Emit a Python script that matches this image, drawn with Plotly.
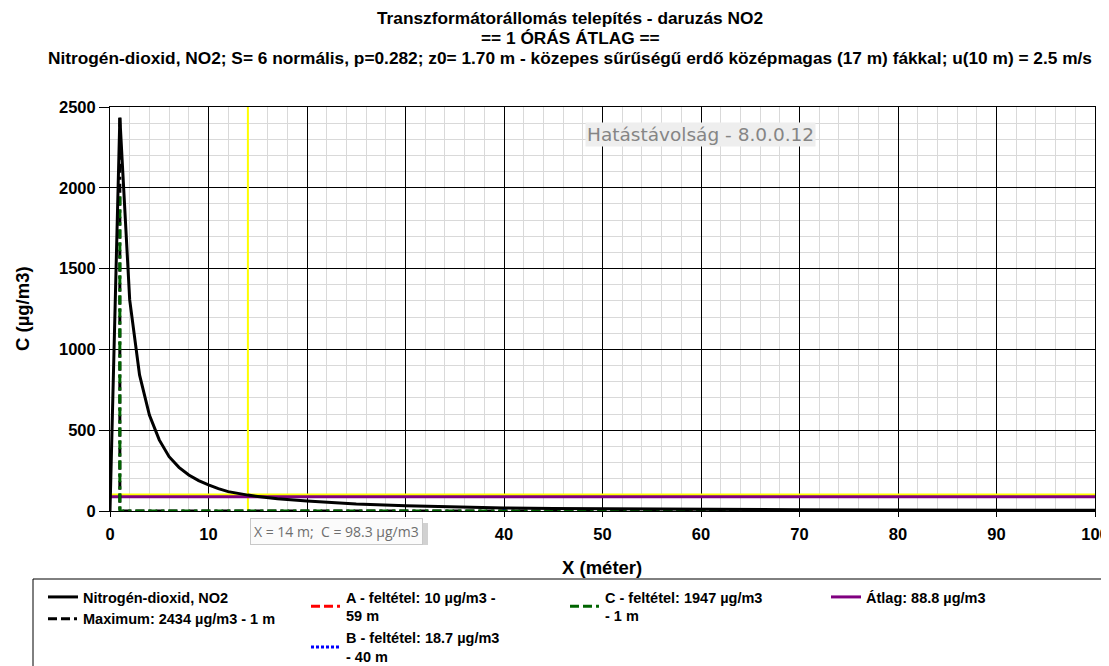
import plotly.graph_objects as go

# ---- data ----
x_dist = [0, 0.25, 0.5, 1, 2, 3, 4, 5, 6, 7, 8, 9, 10, 11, 12, 13, 14, 15, 17, 20,
          25, 30, 35, 40, 45, 50, 55, 59, 65, 70, 80, 90, 100]
conc = [0, 600, 1300, 2434, 1306, 842, 594, 440, 336, 270, 223, 188, 161, 138, 120, 108,
        98.3, 90, 76, 62, 44, 33, 25, 18.7, 15.5, 13, 11, 10, 8.6, 7.6, 6.1, 5.0, 4.2]

max_x, max_c = 1, 2434
a_x, a_c = 59, 10
b_x, b_c = 40, 18.7
c_x, c_c = 1, 1947
avg_c = 88.8
cross_x, cross_c = 14, 98.3

# x tick labels (20 and 30 are hidden behind the crosshair tooltip in the reference)
x_tickvals = [0, 10, 20, 30, 40, 50, 60, 70, 80, 90, 100]
x_ticktext = ["0", "10", "", "", "40", "50", "60", "70", "80", "90", "100"]

title_lines = ["Transzformátorállomás telepítés - daruzás NO2",
               "== 1 ÓRÁS ÁTLAG ==",
               "Nitrogén-dioxid, NO2; S= 6 normális, p=0.282; z0= 1.70 m - közepes sűrűségű erdő középmagas (17 m) fákkal; u(10 m) = 2.5 m/s"]

FONT = "Liberation Sans, Arial, sans-serif"

# the page body adds an 8px offset; screen targets are converted accordingly
OFF = 8
W, H = 1109 - OFF, 666 - OFF
PL, PR, PT, PB = 110, 1095, 107, 511          # plot area in screen pixels
L, T = PL - OFF, PT - OFF
R = W - (PR - OFF)
B = H - (PB - OFF)
pw, ph = PR - PL, PB - PT


def sx(xp):  # screen x -> paper
    return (xp - PL) / pw


def sy(yp):  # screen y -> paper
    return (PB - yp) / ph


def cx(xp):  # screen x -> container
    return (xp - OFF) / W


def cy(yp):  # screen y -> container
    return 1 - (yp - OFF) / H


fig = go.Figure()

# crosshair (yellow)
fig.add_trace(go.Scatter(x=[cross_x, cross_x], y=[0, 2500], mode="lines",
                         line=dict(color="#ffff00", width=2), showlegend=False, hoverinfo="skip"))
fig.add_trace(go.Scatter(x=[0, 100], y=[cross_c, cross_c], mode="lines",
                         line=dict(color="#ffff00", width=3), showlegend=False, hoverinfo="skip"))

# average
fig.add_trace(go.Scatter(x=[0, 100], y=[avg_c, avg_c], mode="lines", name="Átlag: 88.8 µg/m3",
                         line=dict(color="#800080", width=3), legend="legend4"))

# maximum
fig.add_trace(go.Scatter(x=[max_x, max_x, 100], y=[max_c, 0, 0], mode="lines",
                         name="Maximum: 2434 µg/m3 - 1 m", legendrank=2,
                         line=dict(color="#000000", width=3, dash="9px,4px,9px,4px,3px,4px"),
                         legend="legend"))

# conditions
fig.add_trace(go.Scatter(x=[a_x, a_x], y=[0, a_c], mode="lines", name="A - feltétel: 10 µg/m3 -<br>59 m",
                         line=dict(color="#ff0000", width=3, dash="9px,4px,9px,4px,3px,4px"), legend="legend2"))
fig.add_trace(go.Scatter(x=[b_x, b_x], y=[0, b_c], mode="lines", name="B - feltétel: 18.7 µg/m3<br>- 40 m",
                         line=dict(color="#0000ff", width=3, dash="3px,2px"), legend="legend2"))
fig.add_trace(go.Scatter(x=[c_x, c_x, 100], y=[c_c, 0, 0], mode="lines", name="C - feltétel: 1947 µg/m3<br>- 1 m",
                         line=dict(color="#006400", width=3, dash="9px,4px,9px,4px,3px,4px"), legend="legend3"))

# main curve
fig.add_trace(go.Scatter(x=x_dist, y=conc, mode="lines", name="Nitrogén-dioxid, NO2", legendrank=1,
                         line=dict(color="#000000", width=3), legend="legend"))

legend_common = dict(font=dict(family=FONT, size=14.5, color="#000000", weight="bold"),
                     bgcolor="rgba(0,0,0,0)", borderwidth=0, orientation="v",
                     xanchor="left", yanchor="top", xref="container", yref="container",
                     tracegroupgap=0, traceorder="normal")

fig.update_layout(
    width=W, height=H,
    margin=dict(l=L, r=R, t=T, b=B, autoexpand=False),
    paper_bgcolor="#ffffff", plot_bgcolor="#ffffff",
    font=dict(family=FONT, color="#000000"),
    xaxis=dict(range=[0, 100], tickmode="array", tickvals=x_tickvals, ticktext=x_ticktext,
               showgrid=True, gridcolor="#000000", gridwidth=1,
               zeroline=False, showline=True, linecolor="#000000", linewidth=1, mirror=True,
               ticks="outside", ticklen=5, tickcolor="#000000", ticklabelstandoff=3,
               tickfont=dict(family=FONT, size=16.5, color="#000000", weight="bold"),
               minor=dict(dtick=2, tick0=0, showgrid=True, gridcolor="#d9d9d9", gridwidth=1)),
    yaxis=dict(range=[0, 2500], dtick=500, tick0=0, showgrid=True, gridcolor="#000000", gridwidth=1,
               zeroline=False, showline=True, linecolor="#000000", linewidth=1, mirror=True,
               ticks="outside", ticklen=10, tickcolor="#000000",
               tickfont=dict(family=FONT, size=16.5, color="#000000", weight="bold"),
               minor=dict(dtick=100, showgrid=True, gridcolor="#d9d9d9", gridwidth=1)),
    legend=dict(x=cx(43), y=cy(581), **legend_common),
    legend2=dict(x=cx(306), y=cy(581), **legend_common),
    legend3=dict(x=cx(565), y=cy(581), **legend_common),
    legend4=dict(x=cx(826), y=cy(581), **legend_common),
    showlegend=True,
)

# title lines
for t, yp in zip(title_lines, [18, 38, 58]):
    fig.add_annotation(x=sx(570), y=sy(yp), xref="paper", yref="paper", showarrow=False,
                       text="<b>" + t + "</b>", xanchor="center", yanchor="middle",
                       font=dict(family=FONT, size=17.3, color="#000000"))

# axis titles
fig.add_annotation(x=sx(602), y=sy(567), xref="paper", yref="paper", showarrow=False,
                   text="<b>X (méter)</b>", xanchor="center", yanchor="middle",
                   font=dict(family=FONT, size=18.5, color="#000000"))
fig.add_annotation(x=sx(22), y=sy(309), xref="paper", yref="paper", showarrow=False,
                   text="<b>C (µg/m3)</b>", xanchor="center", yanchor="middle", textangle=-90,
                   font=dict(family=FONT, size=18.5, color="#000000"))

# legend frame
fig.add_shape(type="rect", xref="paper", yref="paper",
              x0=sx(33), x1=sx(1112), y0=sy(672), y1=sy(579),
              line=dict(color="#000000", width=1), fillcolor="rgba(0,0,0,0)", layer="above")

# watermark
fig.add_annotation(x=sx(700), y=sy(135), xref="paper", yref="paper", showarrow=False,
                   text="Hatástávolság - 8.0.0.12", xanchor="center", yanchor="middle",
                   font=dict(family="DejaVu Sans, sans-serif", size=18.5, color="#858585"),
                   bgcolor="#eeeeee", borderpad=1)

# crosshair tooltip (shadow + box)
fig.add_shape(type="rect", xref="paper", yref="paper",
              x0=sx(251), x1=sx(428), y0=sy(545), y1=sy(523),
              line=dict(width=0), fillcolor="rgba(0,0,0,0.18)", layer="above")
fig.add_annotation(x=sx(336.5), y=sy(531), xref="paper", yref="paper", showarrow=False,
                   text="X = 14 m;  C = 98.3 µg/m3", xanchor="center", yanchor="middle",
                   font=dict(family="Open Sans, sans-serif", size=14, color="#6e6e6e"),
                   bgcolor="#fbfbfb", bordercolor="#c8c8c8", borderwidth=1, borderpad=3)

fig.write_html("out.html")
